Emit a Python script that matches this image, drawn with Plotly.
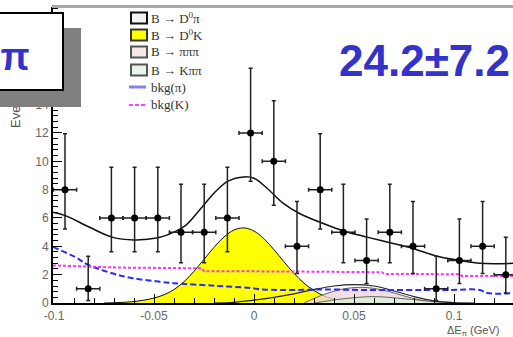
import plotly.graph_objects as go

# ---------------- data ----------------
bin_centers = [-0.0945, -0.0829, -0.0713, -0.0597, -0.0481, -0.0365, -0.0249, -0.0133,
               -0.0017, 0.0099, 0.0215, 0.0331, 0.0447, 0.0563, 0.0679, 0.0795,
               0.0911, 0.1027, 0.1143, 0.1259]
counts = [8, 1, 6, 6, 6, 5, 5, 6, 12, 10, 4, 8, 5, 3, 5, 4, 1, 3, 4, 2]
err_up = [3.95, 2.30, 3.58, 3.58, 3.58, 3.38, 3.38, 3.58, 4.56, 4.27,
          3.16, 3.95, 3.38, 2.92, 3.38, 3.16, 2.30, 2.92, 3.16, 2.64]
err_dn = [2.77, 0.83, 2.38, 2.38, 2.38, 2.16, 2.16, 2.38, 3.41, 3.11,
          1.91, 2.77, 2.16, 1.63, 2.16, 1.91, 0.83, 1.63, 1.91, 1.29]
bin_half_width = 0.0058

total_x = [-0.1005, -0.094, -0.083, -0.071, -0.06, -0.048, -0.04, -0.034, -0.027, -0.02,
           -0.013, -0.005, 0.0, 0.0065, 0.0145, 0.023, 0.034, 0.0445, 0.0565, 0.068,
           0.0795, 0.0915, 0.103, 0.113, 0.1295]
total_y = [6.4, 6.15, 5.4, 4.65, 4.45, 4.6, 5.0, 5.5, 6.6, 7.75,
           8.6, 8.9, 8.8, 8.1, 7.05, 6.3, 5.65, 5.1, 4.65, 4.25,
           3.85, 3.3, 3.0, 2.8, 2.8]

d0k_x = [-0.075, -0.07, -0.065, -0.06, -0.055, -0.05, -0.045, -0.04, -0.035, -0.03,
         -0.025, -0.02, -0.015, -0.01, -0.005, 0.0, 0.005, 0.01, 0.015, 0.02,
         0.025, 0.03, 0.035, 0.04, 0.045, 0.05, 0.055, 0.06]
d0k_y = [0.0, 0.02, 0.05, 0.1, 0.2, 0.35, 0.58, 0.95, 1.5, 2.24,
         3.08, 3.93, 4.66, 5.15, 5.3, 5.08, 4.53, 3.76, 2.91, 2.09,
         1.4, 0.88, 0.5, 0.27, 0.14, 0.07, 0.03, 0.0]

d0pi_x = [-0.02, -0.01, 0.0, 0.01, 0.02, 0.03, 0.04, 0.05, 0.06, 0.07, 0.08, 0.09, 0.1, 0.11]
d0pi_y = [0.0, 0.05, 0.2, 0.4, 0.65, 0.95, 1.2, 1.3, 1.2, 0.85, 0.45, 0.15, 0.03, 0.0]

pipipi_x = [0.025, 0.035, 0.045, 0.055, 0.065, 0.075, 0.085, 0.095]
pipipi_y = [0.0, 0.6, 1.0, 1.1, 0.9, 0.5, 0.15, 0.0]

kpipi_x = [0.03, 0.045, 0.06, 0.075, 0.09, 0.1]
kpipi_y = [0.0, 0.3, 0.45, 0.3, 0.1, 0.0]

bkgpi_x = [-0.1005, -0.0895, -0.083, -0.071, -0.0605, -0.047, -0.0405, -0.02, -0.002,
           0.0045, 0.0215, 0.0345, 0.0545, 0.0965, 0.113, 0.1165, 0.1295]
bkgpi_y = [3.95, 3.25, 2.7, 2.1, 1.75, 1.5, 1.4, 1.22, 1.06,
           0.95, 0.92, 0.96, 0.92, 0.92, 0.92, 0.7, 0.7]

bkgk_x = [-0.1005, -0.067, -0.026, -0.025, 0.021, 0.064, 0.065, 0.103, 0.104, 0.1295]
bkgk_y = [2.65, 2.5, 2.45, 2.25, 2.22, 2.17, 2.05, 2.03, 1.9, 1.9]

x_tickvals = [-0.1, -0.05, 0.0, 0.05, 0.1]
x_ticktext = ["-0.1", "-0.05", "0", "0.05", "0.1"]
y_tickvals = [0, 2, 4, 6, 8, 10, 12, 14, 16, 18, 20]
y_ticktext = ["0", "2", "4", "6", "8", "10", "12", "14", "16", "18", "20"]

legend_labels = ["B → D<sup>0</sup>π", "B → D<sup>0</sup>K", "B → πππ", "B → Kππ",
                 "bkg(π)", "bkg(K)"]
signal_text = "24.2±7.2"
mode_text = "Kπ"
x_title = "ΔE<sub>π</sub> (GeV)"
y_title = "Events"

# ---------------- geometry ----------------
W, H = 513, 337
ML, MR, MT, MB = 53, 0, 7, 34
PW, PH = W - ML - MR, H - MT - MB
X0 = -0.1005
XSCALE = 2000.0
X1 = X0 + PW / XSCALE
YSCALE = 14.17
Y1 = PH / YSCALE


def px(xp):
    return (xp - ML) / PW


def py(yp):
    return (H - MB - yp) / PH


fig = go.Figure()

fig.add_trace(go.Scatter(x=d0k_x, y=d0k_y, mode="lines", fill="tozeroy",
                         fillcolor="#ffff00", line=dict(color="#111111", width=1, shape="spline"),
                         showlegend=False))
fig.add_trace(go.Scatter(x=pipipi_x, y=pipipi_y, mode="lines", fill="tozeroy",
                         fillcolor="rgba(240,215,215,0.8)", line=dict(color="#666666", width=1, shape="spline"),
                         showlegend=False))
fig.add_trace(go.Scatter(x=kpipi_x, y=kpipi_y, mode="lines", fill="tozeroy",
                         fillcolor="rgba(215,240,215,0.8)", line=dict(color="#666666", width=1, shape="spline"),
                         showlegend=False))
fig.add_trace(go.Scatter(x=d0pi_x, y=d0pi_y, mode="lines",
                         line=dict(color="#222222", width=1.2, shape="spline"), showlegend=False))
fig.add_trace(go.Scatter(x=bkgpi_x, y=bkgpi_y, mode="lines",
                         line=dict(color="#2a2aff", width=2, dash="6px,3px", shape="spline"),
                         showlegend=False))
fig.add_trace(go.Scatter(x=bkgk_x, y=bkgk_y, mode="lines",
                         line=dict(color="#ff30ff", width=2, dash="3px,2px"), showlegend=False))
fig.add_trace(go.Scatter(x=total_x, y=total_y, mode="lines",
                         line=dict(color="#111111", width=1.5, shape="spline"), showlegend=False))
fig.add_trace(go.Scatter(x=bin_centers, y=counts, mode="markers",
                         marker=dict(color="black", size=7),
                         error_y=dict(type="data", array=err_up, arrayminus=err_dn, symmetric=False,
                                      color="#222222", thickness=1.5, width=2),
                         error_x=dict(type="constant", value=bin_half_width,
                                      color="#222222", thickness=1.5, width=2),
                         showlegend=False))

shapes = []
shapes.append(dict(type="line", xref="paper", yref="paper", x0=px(52), x1=px(513),
                   y0=py(6.5), y1=py(6.5), line=dict(color="#a8a8a8", width=3)))

rows = [18, 35, 52, 70, 87, 105]
box_styles = [("#f4f4f4", "#111111"), ("#ffff00", "#333333"),
              ("#f7e8e8", "#555555"), ("#e8f6e8", "#555555")]
for i, (fc, lc) in enumerate(box_styles):
    shapes.append(dict(type="rect", xref="paper", yref="paper",
                       x0=px(131), x1=px(147), y0=py(rows[i] + 5.5), y1=py(rows[i] - 5.5),
                       fillcolor=fc, line=dict(color=lc, width=2)))
shapes.append(dict(type="line", xref="paper", yref="paper", x0=px(129), x1=px(146),
                   y0=py(rows[4]), y1=py(rows[4]), line=dict(color="#8080ff", width=3)))
shapes.append(dict(type="line", xref="paper", yref="paper", x0=px(129), x1=px(146),
                   y0=py(rows[5]), y1=py(rows[5]), line=dict(color="#ff40ff", width=2, dash="4px,2px")))

annotations = []
for i, lab in enumerate(legend_labels):
    annotations.append(dict(text=lab, xref="paper", yref="paper", x=px(149), y=py(rows[i]),
                            xanchor="left", yanchor="middle", showarrow=False,
                            font=dict(family="Liberation Serif", size=13, color="#333333")))

annotations.append(dict(text=y_title, xref="paper", yref="paper", x=px(15), y=py(130),
                        xanchor="center", yanchor="bottom", textangle=-90, showarrow=False,
                        font=dict(family="Liberation Sans", size=13, color="#555555")))
annotations.append(dict(text=" ", xref="paper", yref="paper", x=px(-20), y=py(28),
                        xanchor="left", yanchor="top", showarrow=False,
                        width=101, height=79, bgcolor="#808080", borderwidth=0, borderpad=0))
annotations.append(dict(text=" ", xref="paper", yref="paper", x=px(-20), y=py(12),
                        xanchor="left", yanchor="top", showarrow=False,
                        width=80, height=75, bgcolor="white", bordercolor="black",
                        borderwidth=2, borderpad=0))
annotations.append(dict(text=mode_text, xref="paper", yref="paper", x=px(32), y=py(57),
                        xanchor="right", yanchor="middle", showarrow=False,
                        font=dict(family="Liberation Sans", size=38, color="#3333cc", weight="bold")))
annotations.append(dict(text=signal_text, xref="paper", yref="paper", x=px(337), y=py(60),
                        xanchor="left", yanchor="middle", showarrow=False,
                        font=dict(family="Liberation Sans", size=44, color="#3333cc", weight="bold")))
annotations.append(dict(text=x_title, xref="paper", yref="paper", x=px(445), y=py(331),
                        xanchor="left", yanchor="middle", showarrow=False,
                        font=dict(family="Liberation Sans", size=11, color="#555555")))

fig.update_layout(
    width=W, height=H,
    margin=dict(l=ML, r=MR, t=MT, b=MB, pad=0),
    paper_bgcolor="white", plot_bgcolor="white",
    showlegend=False,
    shapes=shapes, annotations=annotations,
    xaxis=dict(range=[X0, X1], showgrid=False, zeroline=False,
               showline=True, linecolor="black", linewidth=2,
               ticks="inside", ticklen=9, tickwidth=1, tickcolor="black",
               tickvals=x_tickvals, ticktext=x_ticktext, ticklabelstandoff=1,
               tickfont=dict(family="Liberation Sans", size=12, color="#666666"),
               minor=dict(dtick=0.01, ticks="inside", ticklen=5, tickcolor="black")),
    yaxis=dict(range=[0, Y1], showgrid=False, zeroline=False,
               showline=True, linecolor="black", linewidth=2,
               ticks="inside", ticklen=9, tickwidth=1, tickcolor="black",
               tickvals=y_tickvals, ticktext=y_ticktext,
               tickfont=dict(family="Liberation Sans", size=12, color="#666666"),
               minor=dict(dtick=0.4, ticks="inside", ticklen=5, tickcolor="black")),
)

fig.write_html("out.html")
